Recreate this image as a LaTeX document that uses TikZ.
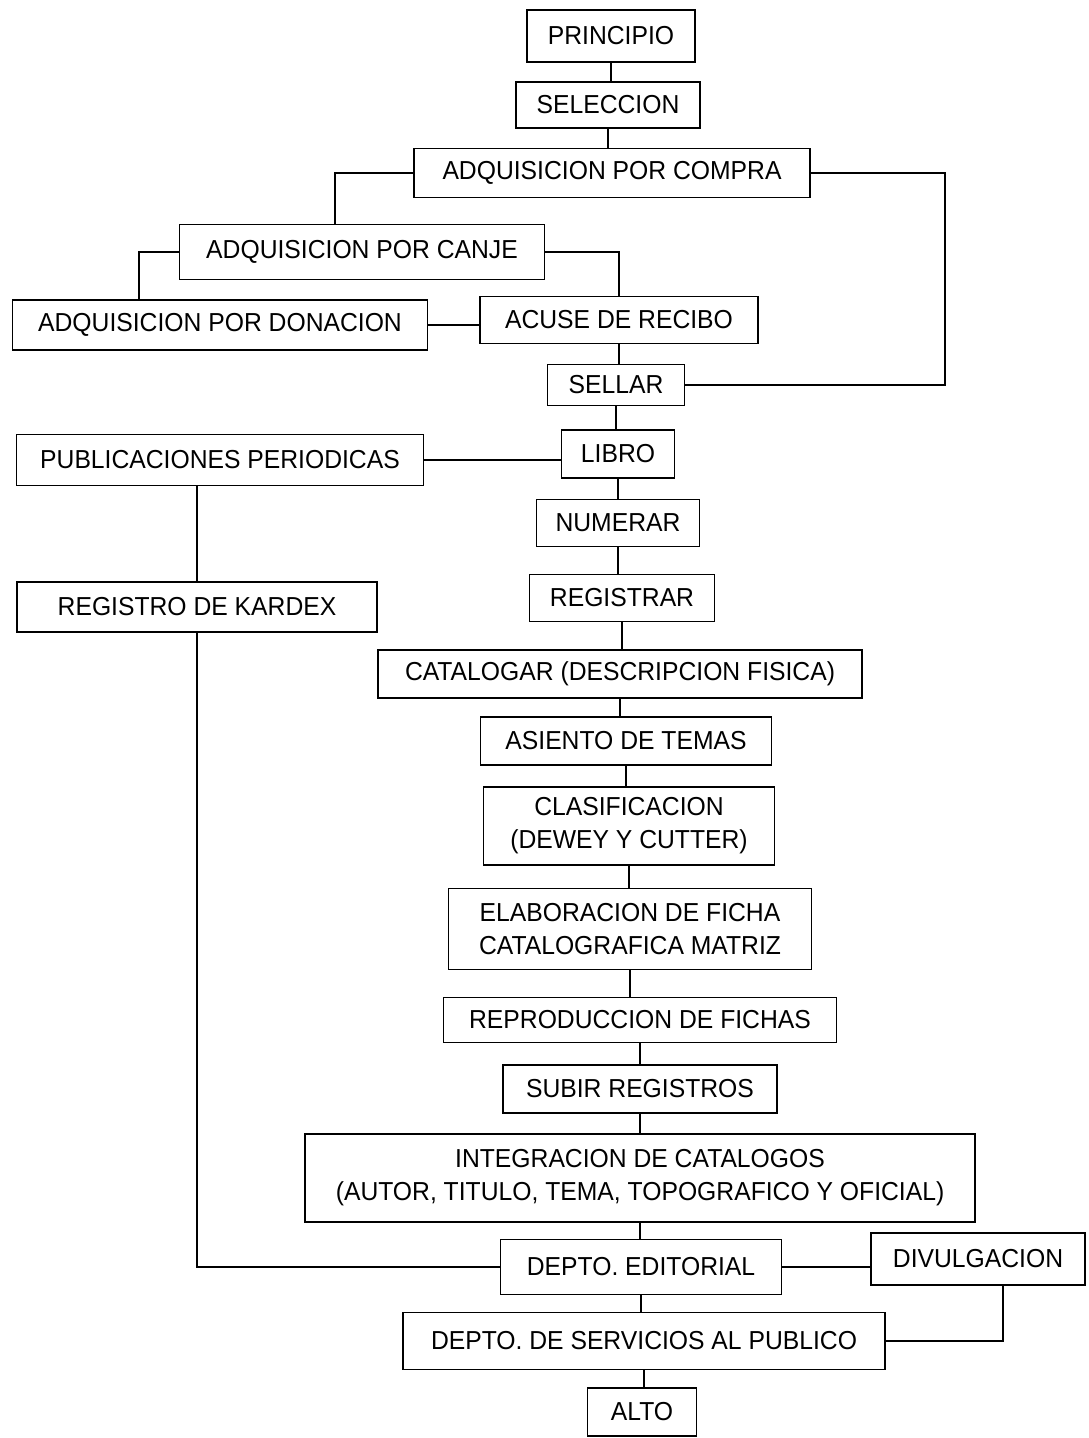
\documentclass[tikz,border=0pt]{standalone}
\usepackage{fontspec}
\setmainfont[FakeStretch=0.95]{Liberation Sans}
\begin{document}
\begin{tikzpicture}[x=0.5pt,y=-0.5pt,
  box/.style={draw, line width=0.9pt, inner sep=0pt, align=center,
    font=\fontsize{13}{16.5}\selectfont},
  conn/.style={line width=0.9pt}]
\useasboundingbox (0,0) rectangle (1088,1438);
\node[box, minimum width=84pt, minimum height=26pt] (principio) at (611,36) {PRINCIPIO};
\node[box, minimum width=92pt, minimum height=23pt] (seleccion) at (608,105) {SELECCION};
\node[box, minimum width=198pt, minimum height=24.5pt] (compra) at (612,173) {ADQUISICION POR COMPRA};
\node[box, minimum width=182.5pt, minimum height=27.5pt] (canje) at (362,252) {ADQUISICION POR CANJE};
\node[box, minimum width=207.5pt, minimum height=25pt] (donacion) at (220,325) {ADQUISICION POR DONACION};
\node[box, minimum width=139pt, minimum height=23.5pt] (acuse) at (619,320) {ACUSE DE RECIBO};
\node[box, minimum width=68.5pt, minimum height=20.5pt] (sellar) at (616,385) {SELLAR};
\node[box, minimum width=203.5pt, minimum height=25.5pt] (publicaciones) at (220,460) {PUBLICACIONES PERIODICAS};
\node[box, minimum width=56.5pt, minimum height=24pt] (libro) at (618,454) {LIBRO};
\node[box, minimum width=81.5pt, minimum height=23.5pt] (numerar) at (618,523) {NUMERAR};
\node[box, minimum width=92.5pt, minimum height=23.5pt] (registrar) at (622,598) {REGISTRAR};
\node[box, minimum width=180pt, minimum height=25pt] (kardex) at (197,607) {REGISTRO DE KARDEX};
\node[box, minimum width=242pt, minimum height=24pt] (catalogar) at (620,674) {CATALOGAR (DESCRIPCION FISICA)};
\node[box, minimum width=145.5pt, minimum height=24pt] (asiento) at (626,741) {ASIENTO DE TEMAS};
\node[box, minimum width=145.5pt, minimum height=39pt] (clasif) at (629,826) {CLASIFICACION\\(DEWEY Y CUTTER)};
\node[box, minimum width=181.5pt, minimum height=40.5pt] (elabor) at (630,929) {ELABORACION DE FICHA\\CATALOGRAFICA MATRIZ};
\node[box, minimum width=196.5pt, minimum height=22.5pt] (reprod) at (640,1020) {REPRODUCCION DE FICHAS};
\node[box, minimum width=137pt, minimum height=24pt] (subir) at (640,1089) {SUBIR REGISTROS};
\node[box, minimum width=335pt, minimum height=44pt] (integ) at (640,1178) {INTEGRACION DE CATALOGOS\\(AUTOR, TITULO, TEMA, TOPOGRAFICO Y OFICIAL)};
\node[box, minimum width=140.5pt, minimum height=27.5pt] (editorial) at (641,1267) {DEPTO. EDITORIAL};
\node[box, minimum width=107pt, minimum height=26pt] (divulg) at (978,1259) {DIVULGACION};
\node[box, minimum width=241pt, minimum height=28.5pt] (servicios) at (644,1341) {DEPTO. DE SERVICIOS AL PUBLICO};
\node[box, minimum width=54.5pt, minimum height=24pt] (alto) at (642,1412) {ALTO};
% connectors
\draw[conn] (principio.south) -- (principio.south |- seleccion.north);
\draw[conn] (seleccion.south) -- (seleccion.south |- compra.north);
\draw[conn] (compra.west) -| ([xshift=78pt]canje.north west);
\draw[conn] (compra.east) -- ++(67pt,0) |- (sellar.east);
\draw[conn] (canje.west) -| ([xshift=63.5pt]donacion.north west);
\draw[conn] (canje.east) -| (acuse.north);
\draw[conn] (donacion.east) -- (donacion.east -| acuse.west);
\draw[conn] (acuse.south) -- (acuse.south |- sellar.north);
\draw[conn] (sellar.south) -- (sellar.south |- libro.north);
\draw[conn] (publicaciones.east) -- (publicaciones.east -| libro.west);
\draw[conn] (kardex.north) -- (kardex.north |- publicaciones.south);
\draw[conn] (kardex.south) |- (editorial.west);
\draw[conn] (libro.south) -- (libro.south |- numerar.north);
\draw[conn] (numerar.south) -- (numerar.south |- registrar.north);
\draw[conn] (registrar.south) -- (registrar.south |- catalogar.north);
\draw[conn] (catalogar.south) -- (catalogar.south |- asiento.north);
\draw[conn] (asiento.south) -- (asiento.south |- clasif.north);
\draw[conn] (clasif.south) -- (clasif.south |- elabor.north);
\draw[conn] (elabor.south) -- (elabor.south |- reprod.north);
\draw[conn] (reprod.south) -- (reprod.south |- subir.north);
\draw[conn] (subir.south) -- (subir.south |- integ.north);
\draw[conn] (integ.south) -- (integ.south |- editorial.north);
\draw[conn] (editorial.east) -- (editorial.east -| divulg.west);
\draw[conn] ([xshift=12.5pt]divulg.south) |- (servicios.east);
\draw[conn] (editorial.south) -- (editorial.south |- servicios.north);
\draw[conn] (servicios.south) -- (servicios.south |- alto.north);
\end{tikzpicture}
\end{document}
